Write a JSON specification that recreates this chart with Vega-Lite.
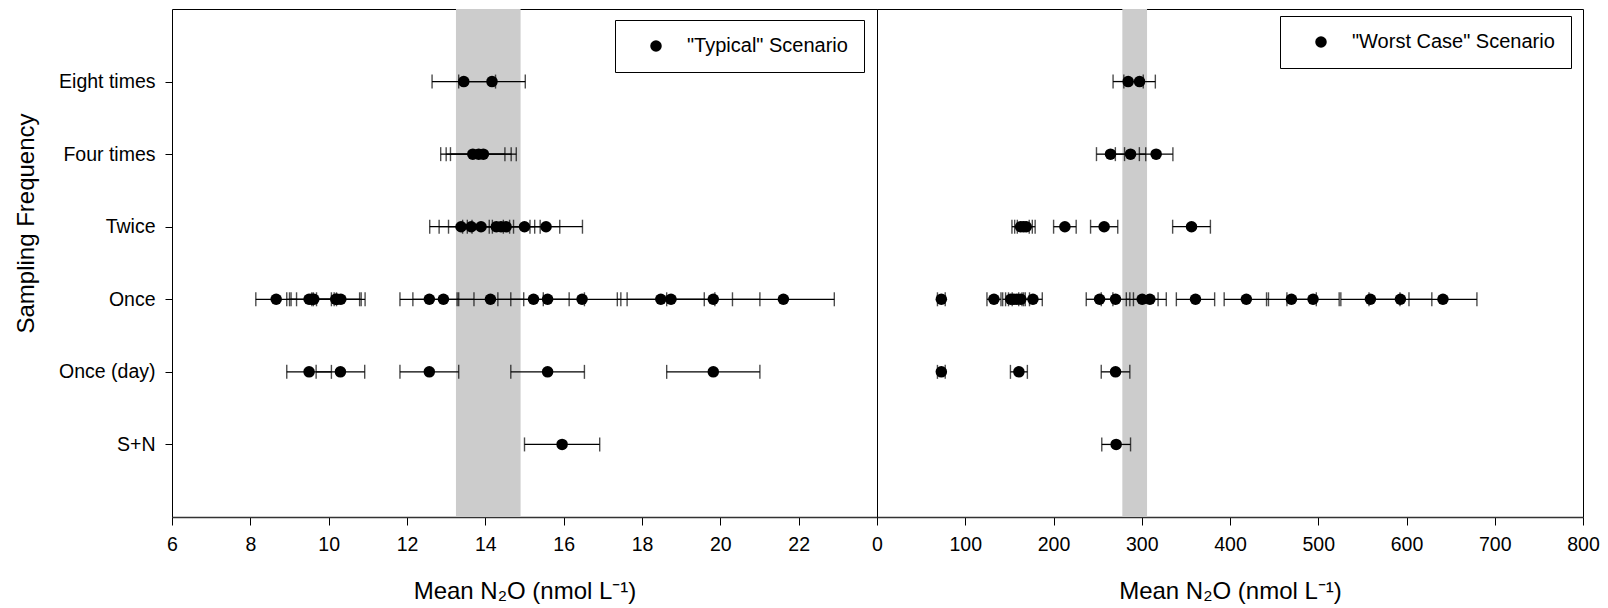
{
  "$schema": "https://vega.github.io/schema/vega-lite/v6.json",
  "padding": {"left": 14, "top": 8, "right": 5, "bottom": 5},
  "bounds": "flush",
  "background": "white",
  "config": {
    "font": "Liberation Sans",
    "view": {"stroke": "black", "strokeWidth": 1},
    "axis": {"grid": false, "labelColor": "black", "titleColor": "black", "tickColor": "black", "domainColor": "#333333", "labelFontSize": 19.5, "titleFontSize": 24, "titleFontWeight": "normal", "labelFlush": false, "labelOverlap": false, "labelBound": false},
    "legend": {"strokeColor": "black", "strokeWidth": 1, "fillColor": "white", "padding": 16, "labelFontSize": 20, "labelColor": "black", "labelLimit": 500, "symbolType": "circle", "symbolSize": 133, "symbolOffset": 15, "labelOffset": 21, "symbolStrokeWidth": 0}
  },
  "datasets": {
    "typ": [
      {"cat": "Eight times", "v": 13.45, "lo": 12.64, "hi": 14.26, "scen": "\"Typical\" Scenario"},
      {"cat": "Eight times", "v": 14.17, "lo": 13.32, "hi": 15.02, "scen": "\"Typical\" Scenario"},
      {"cat": "Four times", "v": 13.68, "lo": 12.86, "hi": 14.50, "scen": "\"Typical\" Scenario"},
      {"cat": "Four times", "v": 13.83, "lo": 13.00, "hi": 14.66, "scen": "\"Typical\" Scenario"},
      {"cat": "Four times", "v": 13.95, "lo": 13.11, "hi": 14.79, "scen": "\"Typical\" Scenario"},
      {"cat": "Twice", "v": 13.38, "lo": 12.58, "hi": 14.18, "scen": "\"Typical\" Scenario"},
      {"cat": "Twice", "v": 13.64, "lo": 12.82, "hi": 14.46, "scen": "\"Typical\" Scenario"},
      {"cat": "Twice", "v": 13.89, "lo": 13.06, "hi": 14.72, "scen": "\"Typical\" Scenario"},
      {"cat": "Twice", "v": 14.28, "lo": 13.42, "hi": 15.14, "scen": "\"Typical\" Scenario"},
      {"cat": "Twice", "v": 14.40, "lo": 13.54, "hi": 15.26, "scen": "\"Typical\" Scenario"},
      {"cat": "Twice", "v": 14.53, "lo": 13.66, "hi": 15.40, "scen": "\"Typical\" Scenario"},
      {"cat": "Twice", "v": 15.00, "lo": 14.10, "hi": 15.90, "scen": "\"Typical\" Scenario"},
      {"cat": "Twice", "v": 15.55, "lo": 14.62, "hi": 16.48, "scen": "\"Typical\" Scenario"},
      {"cat": "Once", "v": 8.66, "lo": 8.14, "hi": 9.18, "scen": "\"Typical\" Scenario"},
      {"cat": "Once", "v": 9.50, "lo": 8.93, "hi": 10.07, "scen": "\"Typical\" Scenario"},
      {"cat": "Once", "v": 9.57, "lo": 9.00, "hi": 10.14, "scen": "\"Typical\" Scenario"},
      {"cat": "Once", "v": 9.62, "lo": 9.04, "hi": 10.20, "scen": "\"Typical\" Scenario"},
      {"cat": "Once", "v": 10.18, "lo": 9.57, "hi": 10.79, "scen": "\"Typical\" Scenario"},
      {"cat": "Once", "v": 10.22, "lo": 9.61, "hi": 10.83, "scen": "\"Typical\" Scenario"},
      {"cat": "Once", "v": 10.31, "lo": 9.69, "hi": 10.93, "scen": "\"Typical\" Scenario"},
      {"cat": "Once", "v": 12.57, "lo": 11.82, "hi": 13.32, "scen": "\"Typical\" Scenario"},
      {"cat": "Once", "v": 12.93, "lo": 12.15, "hi": 13.71, "scen": "\"Typical\" Scenario"},
      {"cat": "Once", "v": 14.13, "lo": 13.28, "hi": 14.98, "scen": "\"Typical\" Scenario"},
      {"cat": "Once", "v": 15.23, "lo": 14.32, "hi": 16.14, "scen": "\"Typical\" Scenario"},
      {"cat": "Once", "v": 15.59, "lo": 14.65, "hi": 16.53, "scen": "\"Typical\" Scenario"},
      {"cat": "Once", "v": 16.47, "lo": 15.48, "hi": 17.46, "scen": "\"Typical\" Scenario"},
      {"cat": "Once", "v": 18.48, "lo": 17.37, "hi": 19.59, "scen": "\"Typical\" Scenario"},
      {"cat": "Once", "v": 18.74, "lo": 17.62, "hi": 19.86, "scen": "\"Typical\" Scenario"},
      {"cat": "Once", "v": 19.82, "lo": 18.63, "hi": 21.01, "scen": "\"Typical\" Scenario"},
      {"cat": "Once", "v": 21.61, "lo": 20.31, "hi": 22.91, "scen": "\"Typical\" Scenario"},
      {"cat": "Once (day)", "v": 9.50, "lo": 8.93, "hi": 10.07, "scen": "\"Typical\" Scenario"},
      {"cat": "Once (day)", "v": 10.30, "lo": 9.68, "hi": 10.92, "scen": "\"Typical\" Scenario"},
      {"cat": "Once (day)", "v": 12.57, "lo": 11.82, "hi": 13.32, "scen": "\"Typical\" Scenario"},
      {"cat": "Once (day)", "v": 15.59, "lo": 14.65, "hi": 16.53, "scen": "\"Typical\" Scenario"},
      {"cat": "Once (day)", "v": 19.82, "lo": 18.63, "hi": 21.01, "scen": "\"Typical\" Scenario"},
      {"cat": "S+N", "v": 15.96, "lo": 15.00, "hi": 16.92, "scen": "\"Typical\" Scenario"}
    ],
    "worst": [
      {"cat": "Eight times", "v": 284.6, "lo": 267.5, "hi": 301.7, "scen": "\"Worst Case\" Scenario"},
      {"cat": "Eight times", "v": 297.5, "lo": 279.7, "hi": 315.4, "scen": "\"Worst Case\" Scenario"},
      {"cat": "Four times", "v": 264.6, "lo": 248.7, "hi": 280.5, "scen": "\"Worst Case\" Scenario"},
      {"cat": "Four times", "v": 287.3, "lo": 270.1, "hi": 304.5, "scen": "\"Worst Case\" Scenario"},
      {"cat": "Four times", "v": 316.3, "lo": 297.3, "hi": 335.3, "scen": "\"Worst Case\" Scenario"},
      {"cat": "Twice", "v": 162.7, "lo": 152.9, "hi": 172.5, "scen": "\"Worst Case\" Scenario"},
      {"cat": "Twice", "v": 166.0, "lo": 156.0, "hi": 176.0, "scen": "\"Worst Case\" Scenario"},
      {"cat": "Twice", "v": 169.1, "lo": 159.0, "hi": 179.2, "scen": "\"Worst Case\" Scenario"},
      {"cat": "Twice", "v": 212.9, "lo": 200.1, "hi": 225.7, "scen": "\"Worst Case\" Scenario"},
      {"cat": "Twice", "v": 257.4, "lo": 242.0, "hi": 272.8, "scen": "\"Worst Case\" Scenario"},
      {"cat": "Twice", "v": 356.4, "lo": 335.0, "hi": 377.8, "scen": "\"Worst Case\" Scenario"},
      {"cat": "Once", "v": 72.9, "lo": 68.5, "hi": 77.3, "scen": "\"Worst Case\" Scenario"},
      {"cat": "Once", "v": 132.5, "lo": 124.6, "hi": 140.5, "scen": "\"Worst Case\" Scenario"},
      {"cat": "Once", "v": 151.5, "lo": 142.4, "hi": 160.6, "scen": "\"Worst Case\" Scenario"},
      {"cat": "Once", "v": 155.0, "lo": 145.7, "hi": 164.3, "scen": "\"Worst Case\" Scenario"},
      {"cat": "Once", "v": 158.5, "lo": 149.0, "hi": 168.0, "scen": "\"Worst Case\" Scenario"},
      {"cat": "Once", "v": 163.0, "lo": 153.2, "hi": 172.8, "scen": "\"Worst Case\" Scenario"},
      {"cat": "Once", "v": 176.7, "lo": 166.1, "hi": 187.3, "scen": "\"Worst Case\" Scenario"},
      {"cat": "Once", "v": 252.2, "lo": 237.1, "hi": 267.3, "scen": "\"Worst Case\" Scenario"},
      {"cat": "Once", "v": 270.3, "lo": 254.1, "hi": 286.5, "scen": "\"Worst Case\" Scenario"},
      {"cat": "Once", "v": 300.5, "lo": 282.5, "hi": 318.5, "scen": "\"Worst Case\" Scenario"},
      {"cat": "Once", "v": 309.2, "lo": 290.6, "hi": 327.8, "scen": "\"Worst Case\" Scenario"},
      {"cat": "Once", "v": 360.9, "lo": 339.2, "hi": 382.6, "scen": "\"Worst Case\" Scenario"},
      {"cat": "Once", "v": 418.5, "lo": 393.4, "hi": 443.6, "scen": "\"Worst Case\" Scenario"},
      {"cat": "Once", "v": 469.6, "lo": 441.4, "hi": 497.8, "scen": "\"Worst Case\" Scenario"},
      {"cat": "Once", "v": 494.1, "lo": 464.5, "hi": 523.7, "scen": "\"Worst Case\" Scenario"},
      {"cat": "Once", "v": 559.1, "lo": 525.6, "hi": 592.6, "scen": "\"Worst Case\" Scenario"},
      {"cat": "Once", "v": 593.1, "lo": 557.5, "hi": 628.7, "scen": "\"Worst Case\" Scenario"},
      {"cat": "Once", "v": 641.3, "lo": 602.8, "hi": 679.8, "scen": "\"Worst Case\" Scenario"},
      {"cat": "Once (day)", "v": 72.9, "lo": 68.5, "hi": 77.3, "scen": "\"Worst Case\" Scenario"},
      {"cat": "Once (day)", "v": 160.8, "lo": 151.2, "hi": 170.4, "scen": "\"Worst Case\" Scenario"},
      {"cat": "Once (day)", "v": 270.3, "lo": 254.1, "hi": 286.5, "scen": "\"Worst Case\" Scenario"},
      {"cat": "S+N", "v": 271.0, "lo": 254.7, "hi": 287.3, "scen": "\"Worst Case\" Scenario"}
    ],
    "bandT": [{"lo": 13.25, "hi": 14.9}],
    "bandW": [{"lo": 278, "hi": 306}]
  },
  "hconcat": [
    {
      "width": 705,
      "height": 508,
      "layer": [
        {
          "data": {"name": "bandT"},
          "mark": {"type": "rect", "color": "#cccccc"},
          "encoding": {
            "x": {"field": "lo", "type": "quantitative", "scale": {"domain": [6, 24], "nice": false, "zero": false}, "axis": {"values": [6, 8, 10, 12, 14, 16, 18, 20, 22], "title": "Mean N₂O (nmol L⁻¹)", "tickSize": 8, "labelPadding": 10, "titlePadding": 26, "domain": true, "domainWidth": 1.6}},
            "x2": {"field": "hi"}
          }
        },
        {
          "data": {"name": "typ"},
          "mark": {"type": "rule", "color": "black", "strokeWidth": 1.3},
          "encoding": {
            "x": {"field": "lo", "type": "quantitative"},
            "x2": {"field": "hi"},
            "y": {"field": "cat", "type": "nominal", "scale": {"type": "point", "padding": 1, "domain": ["Eight times", "Four times", "Twice", "Once", "Once (day)", "S+N"]}, "axis": {"title": "Sampling Frequency", "titleY": 214, "tickSize": 7, "labelPadding": 10, "titlePadding": 20, "domain": false}}
          }
        },
        {
          "data": {"name": "typ"},
          "mark": {"type": "tick", "color": "black", "size": 14, "thickness": 1.4},
          "encoding": {
            "x": {"field": "lo", "type": "quantitative"},
            "y": {"field": "cat", "type": "nominal"}
          }
        },
        {
          "data": {"name": "typ"},
          "mark": {"type": "tick", "color": "black", "size": 14, "thickness": 1.4},
          "encoding": {
            "x": {"field": "hi", "type": "quantitative"},
            "y": {"field": "cat", "type": "nominal"}
          }
        },
        {
          "data": {"name": "typ"},
          "mark": {"type": "point", "filled": true, "shape": "circle", "size": 133, "opacity": 1},
          "encoding": {
            "x": {"field": "v", "type": "quantitative"},
            "y": {"field": "cat", "type": "nominal"},
            "color": {"field": "scen", "type": "nominal", "scale": {"range": ["black"]}, "legend": {"title": null, "orient": "none", "legendX": 443, "legendY": 11}}
          }
        }
      ]
    },
    {
      "width": 706,
      "height": 508,
      "layer": [
        {
          "data": {"name": "bandW"},
          "mark": {"type": "rect", "color": "#cccccc"},
          "encoding": {
            "x": {"field": "lo", "type": "quantitative", "scale": {"domain": [0, 800], "nice": false}, "axis": {"values": [0, 100, 200, 300, 400, 500, 600, 700, 800], "title": "Mean N₂O (nmol L⁻¹)", "tickSize": 8, "labelPadding": 10, "titlePadding": 26, "domain": true, "domainWidth": 1.6}},
            "x2": {"field": "hi"}
          }
        },
        {
          "data": {"name": "worst"},
          "mark": {"type": "rule", "color": "black", "strokeWidth": 1.3},
          "encoding": {
            "x": {"field": "lo", "type": "quantitative"},
            "x2": {"field": "hi"},
            "y": {"field": "cat", "type": "nominal", "scale": {"type": "point", "padding": 1, "domain": ["Eight times", "Four times", "Twice", "Once", "Once (day)", "S+N"]}, "axis": null}
          }
        },
        {
          "data": {"name": "worst"},
          "mark": {"type": "tick", "color": "black", "size": 14, "thickness": 1.4},
          "encoding": {
            "x": {"field": "lo", "type": "quantitative"},
            "y": {"field": "cat", "type": "nominal"}
          }
        },
        {
          "data": {"name": "worst"},
          "mark": {"type": "tick", "color": "black", "size": 14, "thickness": 1.4},
          "encoding": {
            "x": {"field": "hi", "type": "quantitative"},
            "y": {"field": "cat", "type": "nominal"}
          }
        },
        {
          "data": {"name": "worst"},
          "mark": {"type": "point", "filled": true, "shape": "circle", "size": 133, "opacity": 1},
          "encoding": {
            "x": {"field": "v", "type": "quantitative"},
            "y": {"field": "cat", "type": "nominal"},
            "color": {"field": "scen", "type": "nominal", "scale": {"range": ["black"]}, "legend": {"title": null, "orient": "none", "legendX": 403, "legendY": 7}}
          }
        }
      ]
    }
  ],
  "spacing": 0,
  "resolve": {"scale": {"x": "independent", "color": "independent"}, "axis": {"x": "independent"}, "legend": {"color": "independent"}}
}
